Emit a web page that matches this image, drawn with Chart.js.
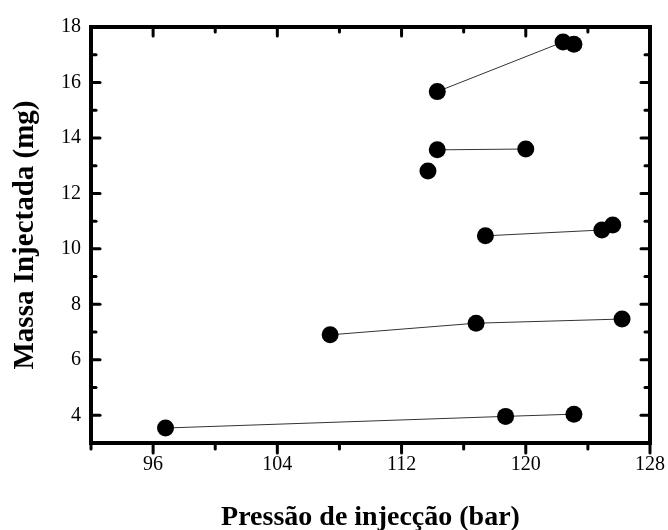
<!DOCTYPE html>
<html>
<head>
<meta charset="utf-8">
<script src="https://cdn.jsdelivr.net/npm/chart.js@4.4.1/dist/chart.umd.min.js"></script>
<style>
  html, body { margin: 0; padding: 0; background: #fff; }
  #wrap { width: 668px; height: 530px; }
</style>
</head>
<body>
<div id="wrap"><canvas id="chart" width="668" height="530"></canvas></div>
<script>
// pressão (bar) / massa (mg) - uma série por grupo ligado
const pressaoA = [96.8, 118.7, 123.1];
const massaA   = [3.54, 3.96, 4.04];
const pressaoB = [107.4, 116.8, 126.2];
const massaB   = [6.9, 7.32, 7.47];
const pressaoC = [117.4, 124.9, 125.6];
const massaC   = [10.47, 10.68, 10.86];
const pressaoD = [114.3, 120.0];
const massaD   = [13.57, 13.6];
const pressaoE = [114.3, 122.4, 123.1];
const massaE   = [15.67, 17.46, 17.38];
const pressaoSolto = [113.7];
const massaSolto   = [12.81];

const xTicks = [96, 104, 112, 120, 128];
const xMinor = [92, 100, 108, 116, 124];
const yTicks = [4, 6, 8, 10, 12, 14, 16, 18];
const yMinor = [3, 5, 7, 9, 11, 13, 15, 17];

const toPts = (xs, ys) => xs.map((x, i) => ({ x: x, y: ys[i] }));

function serie(xs, ys, line) {
  return {
    data: toPts(xs, ys),
    showLine: line,
    borderColor: '#333',
    borderWidth: 1,
    pointRadius: 8.5,
    pointHoverRadius: 8.5,
    pointBackgroundColor: '#000',
    pointBorderWidth: 0
  };
}

// moldura e marcas (maiores e menores) nos quatro lados
const frame = {
  id: 'frame',
  afterDraw(chart) {
    const { ctx, chartArea: a, scales: { x, y } } = chart;
    ctx.save();
    ctx.strokeStyle = '#000';
    ctx.lineCap = 'round';
    ctx.lineWidth = 4;
    ctx.strokeRect(a.left, a.top, a.right - a.left, a.bottom - a.top);
    ctx.lineWidth = 3;
    const seg = (x1, y1, x2, y2) => { ctx.beginPath(); ctx.moveTo(x1, y1); ctx.lineTo(x2, y2); ctx.stroke(); };
    const doX = (vals, len, lenB) => vals.forEach(v => {
      const px = x.getPixelForValue(v);
      seg(px, a.top, px, a.top + len);
      seg(px, a.bottom, px, a.bottom + lenB);
    });
    const doY = (vals, len) => vals.forEach(v => {
      const py = y.getPixelForValue(v);
      seg(a.left, py, a.left + len, py);
      seg(a.right, py, a.right - len, py);
    });
    doX(xTicks, 9, 10);
    doX(xMinor, 5, 6);
    doY(yTicks, 9);
    doY(yMinor, 5);
    ctx.restore();
  }
};

Chart.defaults.font.family = '"Liberation Serif", "Times New Roman", serif';
Chart.defaults.color = '#000';

new Chart(document.getElementById('chart'), {
  type: 'scatter',
  data: {
    datasets: [
      serie(pressaoA, massaA, true),
      serie(pressaoB, massaB, true),
      serie(pressaoC, massaC, true),
      serie(pressaoD, massaD, true),
      serie(pressaoE, massaE, true),
      serie(pressaoSolto, massaSolto, false)
    ]
  },
  options: {
    responsive: false,
    animation: false,
    layout: { padding: { top: 27, right: 18, left: 0, bottom: 0 } },
    plugins: { legend: { display: false }, tooltip: { enabled: false } },
    scales: {
      x: {
        type: 'linear',
        min: 92, max: 128,
        grid: { display: false, drawTicks: false },
        border: { display: false },
        afterBuildTicks: s => { s.ticks = xTicks.map(v => ({ value: v })); },
        afterFit: s => { s.height = 87; s.paddingLeft = 0; s.paddingRight = 0; },
        ticks: { font: { size: 20 }, padding: 10, maxRotation: 0 },
        title: {
          display: true,
          text: 'Pressão de injecção (bar)',
          font: { size: 28, weight: 'bold', lineHeight: 0.9 },
          padding: { top: 0, bottom: 0 }
        }
      },
      y: {
        type: 'linear',
        min: 3, max: 18,
        grid: { display: false, drawTicks: false },
        border: { display: false },
        afterBuildTicks: s => { s.ticks = yTicks.map(v => ({ value: v })); },
        afterFit: s => { s.width = 91; },
        ticks: { font: { size: 20 }, padding: 10 },
        title: {
          display: true,
          text: 'Massa Injectada (mg)',
          font: { size: 29, weight: 'bold', lineHeight: 1 },
          padding: { top: 11, bottom: 0 }
        }
      }
    }
  },
  plugins: [frame]
});
</script>
</body>
</html>
